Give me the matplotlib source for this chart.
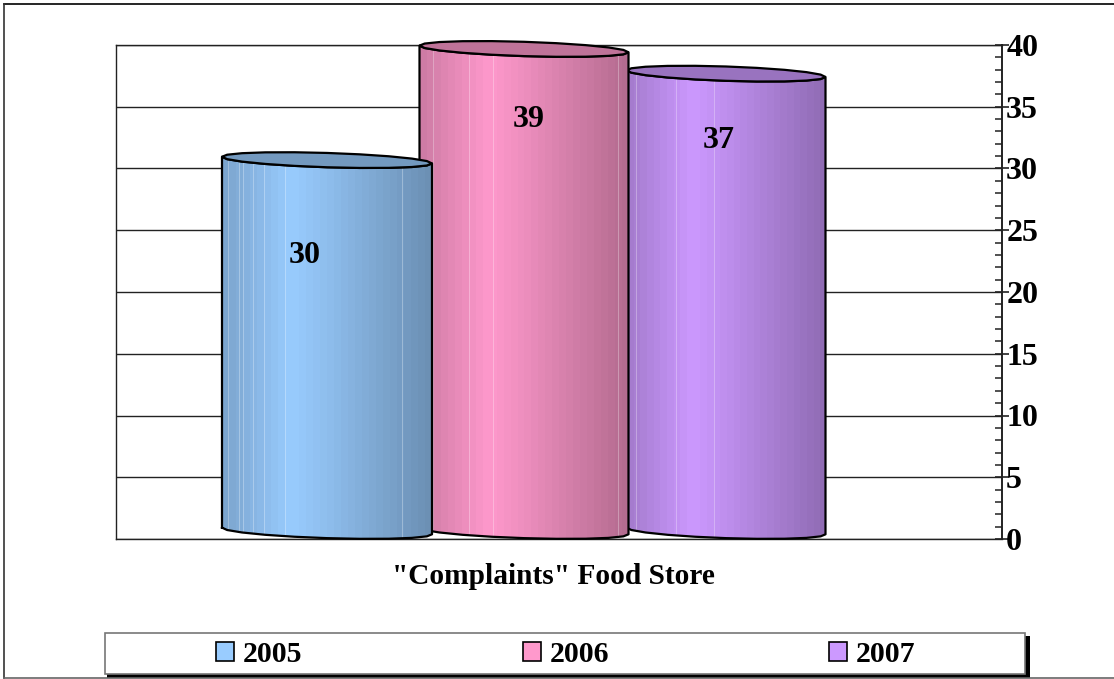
import numpy as np
import matplotlib
matplotlib.use("Agg")
import matplotlib.pyplot as plt
from matplotlib.colors import to_rgb
from matplotlib.lines import Line2D
from matplotlib.patches import Patch, Rectangle
from matplotlib.path import Path
from matplotlib.ticker import MultipleLocator

# ---- data ----
years = ["2005", "2006", "2007"]
values = [30, 39, 37]
colors = ["#99CCFF", "#FF99CC", "#CC99FF"]
axis_title = '"Complaints" Food Store'
yticks = [0, 5, 10, 15, 20, 25, 30, 35, 40]

# ---- style / layout ----
W, H = 1114, 679
positions = [0.0, 0.985, 1.995]
widths = [1.05, 1.045, 0.995]
label_dx = [-0.11, 0.025, -0.035]
label_y = [22.95, 33.95, 32.25]
streaks = [[.03, .08, .10, .146, .20, .30, .855],
           [.063, .238, .35, .95],
           [.05, .25, .44]]
b, tilt, lift = 0.58, 0.27, 0.68
FS = 21.5
FS_TICK = 23

plt.rcParams["font.family"] = ["Liberation Serif", "DejaVu Serif"]
plt.rcParams["font.weight"] = "bold"

fig = plt.figure(figsize=(W / 100, H / 100), dpi=100, facecolor="white")
ax = fig.add_axes([116 / W, 1 - 539 / H, (1002 - 116) / W, (539 - 45) / H])
xlim = (-1.055, 3.375)
ylim = (0, 40)


def ellipse(cx, cy, hw, n=20):
    t = np.linspace(0, 2 * np.pi, n + 1)
    u = np.cos(t)
    return np.column_stack([cx + hw * u, cy + b * np.sin(t) - tilt * u])


def front(cx, cy, hw, n=10):
    t = np.linspace(np.pi, 2 * np.pi, n + 1)
    u = np.cos(t)
    return np.column_stack([cx + hw * u, cy + b * np.sin(t) - tilt * u])


def shade(rgb, n=30):
    u = (np.arange(n) + 0.5) / n
    f = np.interp(u, [0, 0.33, 0.5, 1], [0.80, 1.0, 0.93, 0.70])
    return (np.array(rgb)[None, :] * f[:, None])[None, :, :]


for i, (pos, val, col, w) in enumerate(zip(positions, values, colors, widths)):
    z = 10 - 2 * i
    rgb = to_rgb(col)
    hw = w / 2
    top_c = val + lift
    low_c = lift - 0.03
    bottom = front(pos, low_c, hw)
    top_front = front(pos, top_c, hw)
    outline = np.vstack([bottom, top_front[::-1], bottom[:1]])
    clip = Path(outline)

    bar = ax.bar(pos, val, width=w, color=col, zorder=z)[0]
    bar.set_clip_path(clip, ax.transData)

    im = ax.imshow(shade(rgb), extent=(pos - hw, pos + hw, 0, top_c + 1),
                   aspect="auto", interpolation="nearest", zorder=z + 0.1)
    im.set_clip_path(clip, ax.transData)

    for s in streaks[i]:
        ln = ax.plot([pos - hw + s * w] * 2, [0, top_c], color="white",
                     lw=0.7, alpha=0.3, zorder=z + 0.2)[0]
        ln.set_clip_path(clip, ax.transData)

    ax.plot(outline[:, 0], outline[:, 1], color="black", lw=1.6,
            zorder=z + 0.4, solid_joinstyle="round", clip_on=False)
    cap = ellipse(pos, top_c, hw)
    ax.fill(cap[:, 0], cap[:, 1], facecolor=tuple(c * 0.75 for c in rgb),
            edgecolor="black", lw=1.6, zorder=z + 0.5, clip_on=False)
    ax.text(pos + label_dx[i], label_y[i], str(val), ha="center", va="center",
            fontsize=FS_TICK, fontweight="bold", color="black", zorder=20)

ax.set_xlim(*xlim)
ax.set_ylim(*ylim)
ax.set_xticks([])
ax.yaxis.tick_right()
ax.set_yticks(yticks)
ax.yaxis.set_minor_locator(MultipleLocator(1))
ax.tick_params(axis="y", which="major", direction="inout", length=10, width=1.2,
               color="#222222", labelsize=FS_TICK, pad=-2)
ax.tick_params(axis="y", which="minor", direction="in", length=5, width=1.2,
               color="#333333")
ax.grid(axis="y", which="major", color="#222222", lw=1)
ax.set_axisbelow(True)
for s in ax.spines.values():
    s.set_color("#222222")
    s.set_linewidth(1)
ax.spines["right"].set_linewidth(1.4)

ax.set_xlabel(axis_title, fontsize=21.2, fontweight="bold", labelpad=17.5, x=0.494)

# outer frame: open on the right
for xs, ys, c in [((4, W), (3.5, 3.5), "black"),
                  ((4, 4), (3.5, 678), "#333333"),
                  ((4, W), (678, 678), "#666666")]:
    fig.add_artist(Line2D([x / W for x in xs], [1 - y / H for y in ys],
                          transform=fig.transFigure, color=c, lw=1.2))
# legend frame with shadow
fig.add_artist(Rectangle((107 / W, 1 - 678 / H), (1030 - 107) / W, (678 - 636) / H,
                         transform=fig.transFigure, facecolor="black",
                         edgecolor="black", lw=0))
fig.add_artist(Rectangle((104.5 / W, 1 - 674 / H), (1025 - 104.5) / W, (674 - 632.5) / H,
                         transform=fig.transFigure, facecolor="white",
                         edgecolor="#777777", lw=1.2))
handles = [Patch(facecolor=c, edgecolor="black", lw=1.2) for c in colors]
leg = fig.legend(handles, years, ncol=3, loc="center", frameon=False,
                 bbox_to_anchor=(566 / W, 1 - 654.5 / H),
                 bbox_transform=fig.transFigure, prop={"size": FS, "weight": "bold"},
                 handlelength=0.6, handleheight=0.6, handletextpad=0.3,
                 columnspacing=7.37, borderpad=0, borderaxespad=0)

fig.savefig("out.png", dpi=100)
